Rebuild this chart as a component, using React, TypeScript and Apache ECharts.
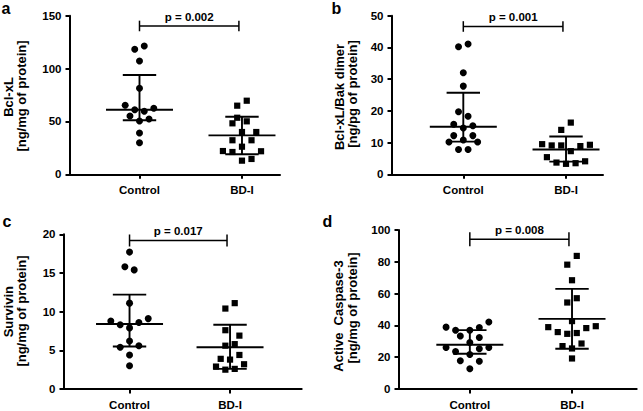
import React, { useEffect, useRef } from "react";
import * as echarts from "echarts";

// ---------- data ----------
const categories = ["Control", "BD-I"];

// Panel a: Bcl-xL [ng/mg of protein]
const aControl = [121.3, 118.2, 107.2, 81.3, 65.3, 62.4, 61.1, 59.6, 55.1, 52.3, 50.4, 39.1, 29.9];
const aControlJitter = [1, -1, 0, 0, -3, 3, -1, 1, -2, 2, 0, 0, 0];
const aBD = [69.6, 64.9, 53.5, 50.1, 48.2, 40.0, 40.0, 32.2, 32.2, 26.1, 22.0, 21.8, 21.1, 14.5, 12.9];
const aBDJitter = [1, -1, -1, 1, -2, 0, 3, -2, 2, 0, -4, 4, -2, 2, 0];
const aCentre = [61.1, 36.8];
const aLower = [51.1, 18.9];
const aUpper = [93.9, 54.5];

// Panel b: Bcl-xL/Bak dimer [ng/pg of protein]
const bControl = [41.1, 40.2, 32.0, 27.8, 19.7, 18.3, 15.8, 15.3, 14.6, 12.2, 12.2, 10.8, 10.2, 10.2, 7.8, 7.8];
const bControlJitter = [1, -1, 0, 0, -1, 1, -2, 2, 0, -2, 2, 0, -3, 3, -1, 1];
const bBD = [16.3, 14.0, 9.5, 9.3, 9.1, 9.1, 8.9, 7.3, 5.4, 4.1, 3.7, 3.5, 3.3];
const bBDJitter = [1, -1, -5, 5, -3, -1, 3, 1, -4, 4, -2, 2, 0];
const bCentre = [15.0, 7.8];
const bLower = [10.3, 4.0];
const bUpper = [25.7, 11.9];

// Panel c: Survivin [ng/mg of protein]
const cControl = [17.7, 15.8, 15.4, 11.1, 9.1, 8.8, 8.6, 8.3, 7.9, 6.2, 5.6, 5.4, 4.4, 3.0];
const cControlJitter = [0, -1, 1, 0, 4, -4, 2, -2, 0, 0, 2, -2, 0, 0];
const cBD = [11.1, 10.4, 7.6, 6.9, 5.8, 5.6, 4.4, 3.9, 3.8, 3.2, 2.9, 2.6, 2.5];
const cBDJitter = [1, -1, -1, 2, 1, -1, 2, -2, 0, 3, -3, 1, -1];
const cCentre = [8.4, 5.4];
const cLower = [5.5, 2.6];
const cUpper = [12.2, 8.3];

// Panel d: Active Caspase-3 [ng/mg of protein]
const dControl = [42.1, 38.9, 38.7, 37.0, 37.0, 33.3, 32.4, 29.3, 26.1, 26.1, 25.3, 23.6, 21.7, 17.8, 17.4, 12.7];
const dControlJitter = [4, -5, 2, -3, 0, -2, 2, 0, -5, 4, 2, -3, 0, -2, 2, 0];
const dBD = [83.7, 78.2, 68.4, 57.1, 54.4, 42.7, 39.5, 38.9, 38.3, 35.8, 35.2, 34.7, 28.6, 27.0, 25.5, 19.2];
const dBDJitter = [1, -1, 0, 1, -1, 0, 5, -5, 3, -3, 1, -1, 2, -2, 0, 0];
const dCentre = [27.8, 44.1];
const dLower = [22.2, 25.3];
const dUpper = [37.0, 63.0];

const letters = ["a", "b", "c", "d"];
const titleLine1 = ["Bcl-xL", "Bcl-xL/Bak dimer", "Survivin", "Active  Caspase-3"];
const titleLine2 = ["[ng/mg of protein]", "[ng/pg of protein]", "[ng/mg of protein]", "[ng/mg of protein]"];
const yMaxes = [150, 50, 20, 100];
const yIntervals = [50, 10, 5, 20];
const pTexts = ["p = 0.002", "p = 0.001", "p = 0.017", "p = 0.008"];
const bracketY = [140.3, 46.6, 19.2, 94.2];

// ---------- layout / style ----------
const FONT = "'Liberation Sans', Arial, Helvetica, sans-serif";
const INK = "#000000";
const STEP = 0.0465;
const BRACKET_END = 1.97;

const layouts = [
  { left: 69.5, top: 15.7, width: 210.5, height: 158.6, xMin: 0.317, xMax: 2.371, lx: 1.5, ly: 8.5, t1x: 8.3, t1y: 97, t2x: 21, t2y: 96, bh: 5.3 },
  { left: 391.5, top: 15.7, width: 211.5, height: 158.6, xMin: 0.301, xMax: 2.36, lx: 331.5, ly: 8.2, t1x: 339, t1y: 97, t2x: 352, t2y: 94, bh: 5.3 },
  { left: 63.5, top: 234.3, width: 238.2, height: 155, xMin: 0.343, xMax: 2.713, lx: 2.5, ly: 221, t1x: 8.3, t1y: 311.7, t2x: 21.5, t2y: 311, bh: 6 },
  { left: 398.5, top: 230, width: 238.2, height: 159.3, xMin: 0.302, xMax: 2.633, lx: 322.5, ly: 221, t1x: 338.7, t1y: 316, t2x: 352.8, t2y: 308, bh: 7 },
];

const panels = [
  { control: aControl, cj: aControlJitter, bd: aBD, bj: aBDJitter, centre: aCentre, lower: aLower, upper: aUpper },
  { control: bControl, cj: bControlJitter, bd: bBD, bj: bBDJitter, centre: bCentre, lower: bLower, upper: bUpper },
  { control: cControl, cj: cControlJitter, bd: cBD, bj: cBDJitter, centre: cCentre, lower: cLower, upper: cUpper },
  { control: dControl, cj: dControlJitter, bd: dBD, bj: dBDJitter, centre: dCentre, lower: dLower, upper: dUpper },
];

const MEDIAN_HALF = 33.5;
const CAP_HALF = 16.7;

function buildOption() {
  const grid: any[] = [];
  const xAxis: any[] = [];
  const yAxis: any[] = [];
  const series: any[] = [];
  const graphic: any[] = [];

  panels.forEach((p, i) => {
    const L = layouts[i];
    grid.push({ left: L.left, top: L.top, width: L.width, height: L.height, containLabel: false });
    xAxis.push({
      gridIndex: i,
      type: "value",
      min: L.xMin,
      max: L.xMax,
      axisLine: { show: true, onZero: false, lineStyle: { color: INK, width: 2 } },
      axisTick: { show: true, customValues: [1, 2], length: 4.5, lineStyle: { color: INK, width: 2 } },
      axisLabel: {
        show: true,
        customValues: [1, 2],
        formatter: (v: number) => categories[Math.round(v) - 1] ?? "",
        margin: 10,
        color: INK,
        fontSize: 11.5,
        fontWeight: "bold",
        fontFamily: FONT,
      },
      splitLine: { show: false },
    });
    yAxis.push({
      gridIndex: i,
      type: "value",
      min: 0,
      max: yMaxes[i],
      interval: yIntervals[i],
      axisLine: { show: true, onZero: false, lineStyle: { color: INK, width: 2 } },
      axisTick: { show: true, length: 4, lineStyle: { color: INK, width: 2 } },
      axisLabel: { margin: 8, color: INK, fontSize: 11.5, fontWeight: "bold", fontFamily: FONT },
      splitLine: { show: false },
    });

    series.push({
      type: "scatter",
      xAxisIndex: i,
      yAxisIndex: i,
      symbol: "circle",
      symbolSize: 7,
      itemStyle: { color: INK, opacity: 1 },
      silent: true,
      data: p.control.map((v, k) => [1 + p.cj[k] * STEP, v]),
    });
    series.push({
      type: "scatter",
      xAxisIndex: i,
      yAxisIndex: i,
      symbol: "rect",
      symbolSize: 6.2,
      itemStyle: { color: INK, opacity: 1 },
      silent: true,
      data: p.bd.map((v, k) => [2 + p.bj[k] * STEP, v]),
    });
    series.push({
      type: "custom",
      xAxisIndex: i,
      yAxisIndex: i,
      silent: true,
      data: [0, 1].map((k) => [k + 1, p.centre[k], p.lower[k], p.upper[k]]),
      renderItem: (_params: any, api: any) => {
        const x = api.value(0);
        const c = api.coord([x, api.value(1)]);
        const lo = api.coord([x, api.value(2)]);
        const hi = api.coord([x, api.value(3)]);
        const st = { stroke: INK, lineWidth: 1.9 };
        return {
          type: "group",
          children: [
            { type: "line", shape: { x1: c[0] - MEDIAN_HALF, y1: c[1], x2: c[0] + MEDIAN_HALF, y2: c[1] }, style: st },
            { type: "line", shape: { x1: lo[0], y1: lo[1], x2: hi[0], y2: hi[1] }, style: st },
            { type: "line", shape: { x1: hi[0] - CAP_HALF, y1: hi[1], x2: hi[0] + CAP_HALF, y2: hi[1] }, style: st },
            { type: "line", shape: { x1: lo[0] - CAP_HALF, y1: lo[1], x2: lo[0] + CAP_HALF, y2: lo[1] }, style: st },
          ],
        };
      },
    });
    const bh = L.bh;
    const ptext = pTexts[i];
    series.push({
      type: "custom",
      xAxisIndex: i,
      yAxisIndex: i,
      silent: true,
      clip: false,
      data: [[1, BRACKET_END, bracketY[i]]],
      renderItem: (_params: any, api: any) => {
        const a = api.coord([api.value(0), api.value(2)]);
        const b = api.coord([api.value(1), api.value(2)]);
        const st = { stroke: INK, lineWidth: 1.5 };
        return {
          type: "group",
          children: [
            { type: "line", shape: { x1: a[0], y1: a[1], x2: b[0], y2: b[1] }, style: st },
            { type: "line", shape: { x1: a[0], y1: a[1] - bh, x2: a[0], y2: a[1] + bh }, style: st },
            { type: "line", shape: { x1: b[0], y1: b[1] - bh, x2: b[0], y2: b[1] + bh }, style: st },
            {
              type: "text",
              x: (a[0] + b[0]) / 2,
              y: a[1] - 9,
              style: {
                text: ptext,
                fill: INK,
                font: `bold 11.5px ${FONT}`,
                align: "center",
                verticalAlign: "middle",
                textAlign: "center",
                textVerticalAlign: "middle",
              },
            },
          ],
        };
      },
    });

    graphic.push({
      type: "text",
      x: L.lx,
      y: L.ly,
      style: {
        text: letters[i],
        fill: INK,
        font: `bold 16px ${FONT}`,
        align: "left",
        verticalAlign: "middle",
        textAlign: "left",
        textVerticalAlign: "middle",
      },
    });
    graphic.push({
      type: "text",
      x: L.t1x,
      y: L.t1y,
      rotation: Math.PI / 2,
      style: {
        text: titleLine1[i],
        fill: INK,
        font: `bold 13px ${FONT}`,
        align: "center",
        verticalAlign: "middle",
        textAlign: "center",
        textVerticalAlign: "middle",
      },
    });
    graphic.push({
      type: "text",
      x: L.t2x,
      y: L.t2y,
      rotation: Math.PI / 2,
      style: {
        text: titleLine2[i],
        fill: INK,
        font: `bold 13px ${FONT}`,
        align: "center",
        verticalAlign: "middle",
        textAlign: "center",
        textVerticalAlign: "middle",
      },
    });
  });

  return {
    animation: false,
    backgroundColor: "#ffffff",
    textStyle: { fontFamily: FONT },
    grid,
    xAxis,
    yAxis,
    series,
    graphic,
  };
}

export default function App() {
  const ref = useRef<HTMLDivElement>(null);
  useEffect(() => {
    if (!ref.current) return;
    const chart = echarts.init(ref.current, null, { renderer: "svg" });
    chart.setOption(buildOption() as any);
    return () => chart.dispose();
  }, []);
  return (
    <div
      ref={ref}
      style={{ position: "fixed", left: 0, top: 0, width: 643, height: 411, background: "#fff" }}
    />
  );
}
